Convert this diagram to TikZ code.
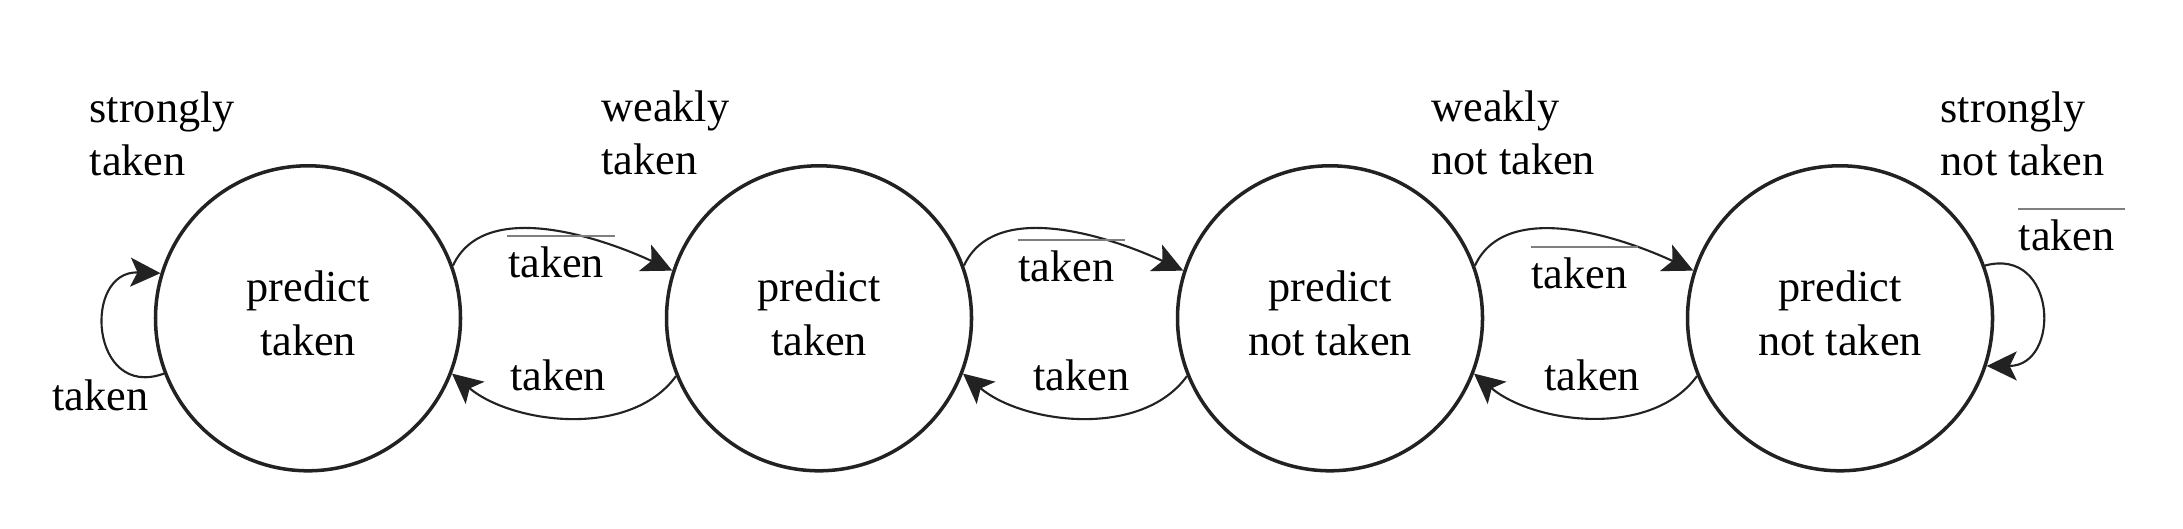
\documentclass[tikz,border=0pt]{standalone}
\usepackage{fontspec}
\setmainfont{Liberation Serif}
\usetikzlibrary{arrows.meta}
\definecolor{ink}{HTML}{222222}
\definecolor{barcol}{HTML}{7F7F7F}

\begin{document}
\begin{tikzpicture}[
font=\fontsize{12.6}{15.2}\selectfont,
state/.style={%
draw=ink,
line width=1pt,
circle,
minimum size=3.05cm,
inner sep=0pt,
align=center,
execute at end node={\rule[-1mm]{0pt}{0pt}}
},
edge/.style={%
draw=ink,
line width=0.6pt,
-{Stealth[length=0.3cm,width=0.29cm,inset=0.07cm]}
},
lbl/.style={inner sep=0pt},
bar/.style={draw=barcol, line width=0.6pt}
]
\useasboundingbox (0,0) rectangle (21.83,5.28);
%% States
\node[state]at(3.08,2.097)(s1){predict\\taken};
\node[state]at(8.19,2.097)(s2){predict\\taken};
\node[state]at(13.30,2.097)(s3){predict\\not taken};
\node[state]at(18.40,2.097)(s4){predict\\not taken};
%% State names
\node[lbl,align=left,anchor=base west]at(0.89,3.52)(n1){strongly\\taken};
\node[lbl,align=left,anchor=base west]at(6.007,3.53)(n2){weakly\\taken};
\node[lbl,align=left,anchor=base west]at(14.307,3.53)(n3){weakly\\not taken};
\node[lbl,align=left,anchor=base west]at(19.40,3.52)(n4){strongly\\not taken};
%% Transitions to the right
\node[lbl,anchor=base]at(5.56,2.51)(t12){taken};
\node[lbl,anchor=base]at(10.665,2.463)(t23){taken};
\node[lbl,anchor=base]at(15.795,2.40)(t34){taken};
\draw[edge](s1.20) to[out=65,in=155,looseness=0.88] (s2.162);
\draw[edge](s2.20) to[out=65,in=155,looseness=0.88] (s3.162);
\draw[edge](s3.20) to[out=65,in=155,looseness=0.88] (s4.162);
%% Transitions to the left
\node[lbl,anchor=base]at(5.58,1.38)(t21){taken};
\node[lbl,anchor=base]at(10.815,1.38)(t32){taken};
\node[lbl,anchor=base]at(15.92,1.38)(t43){taken};
\draw[edge](s2.202) to[out=234,in=320,looseness=0.89] (s1.339);
\draw[edge](s3.202) to[out=234,in=320,looseness=0.89] (s2.339);
\draw[edge](s4.202) to[out=234,in=320,looseness=0.89] (s3.339);
%% Self loops
\node[lbl,anchor=base west]at(0.517,1.18)(l1){taken};
\node[lbl,anchor=base west]at(20.18,2.773)(l4){taken};
\draw[edge](s1.201) to[out=200,in=178,looseness=2] (s1.163);
\draw[edge](s4.20) to[out=15,in=0,looseness=1.9] (s4.-18);
%% Bars over "taken"
\draw[bar]([yshift=1mm]t12.north west)--([xshift=1mm,yshift=1mm]t12.north east);
\draw[bar]([yshift=1mm]t23.north west)--([xshift=1mm,yshift=1mm]t23.north east);
\draw[bar]([yshift=1mm]t34.north west)--([xshift=1mm,yshift=1mm]t34.north east);
\draw[bar]([yshift=1mm]l4.north west)--([xshift=1mm,yshift=1mm]l4.north east);
\end{tikzpicture}
\end{document}
